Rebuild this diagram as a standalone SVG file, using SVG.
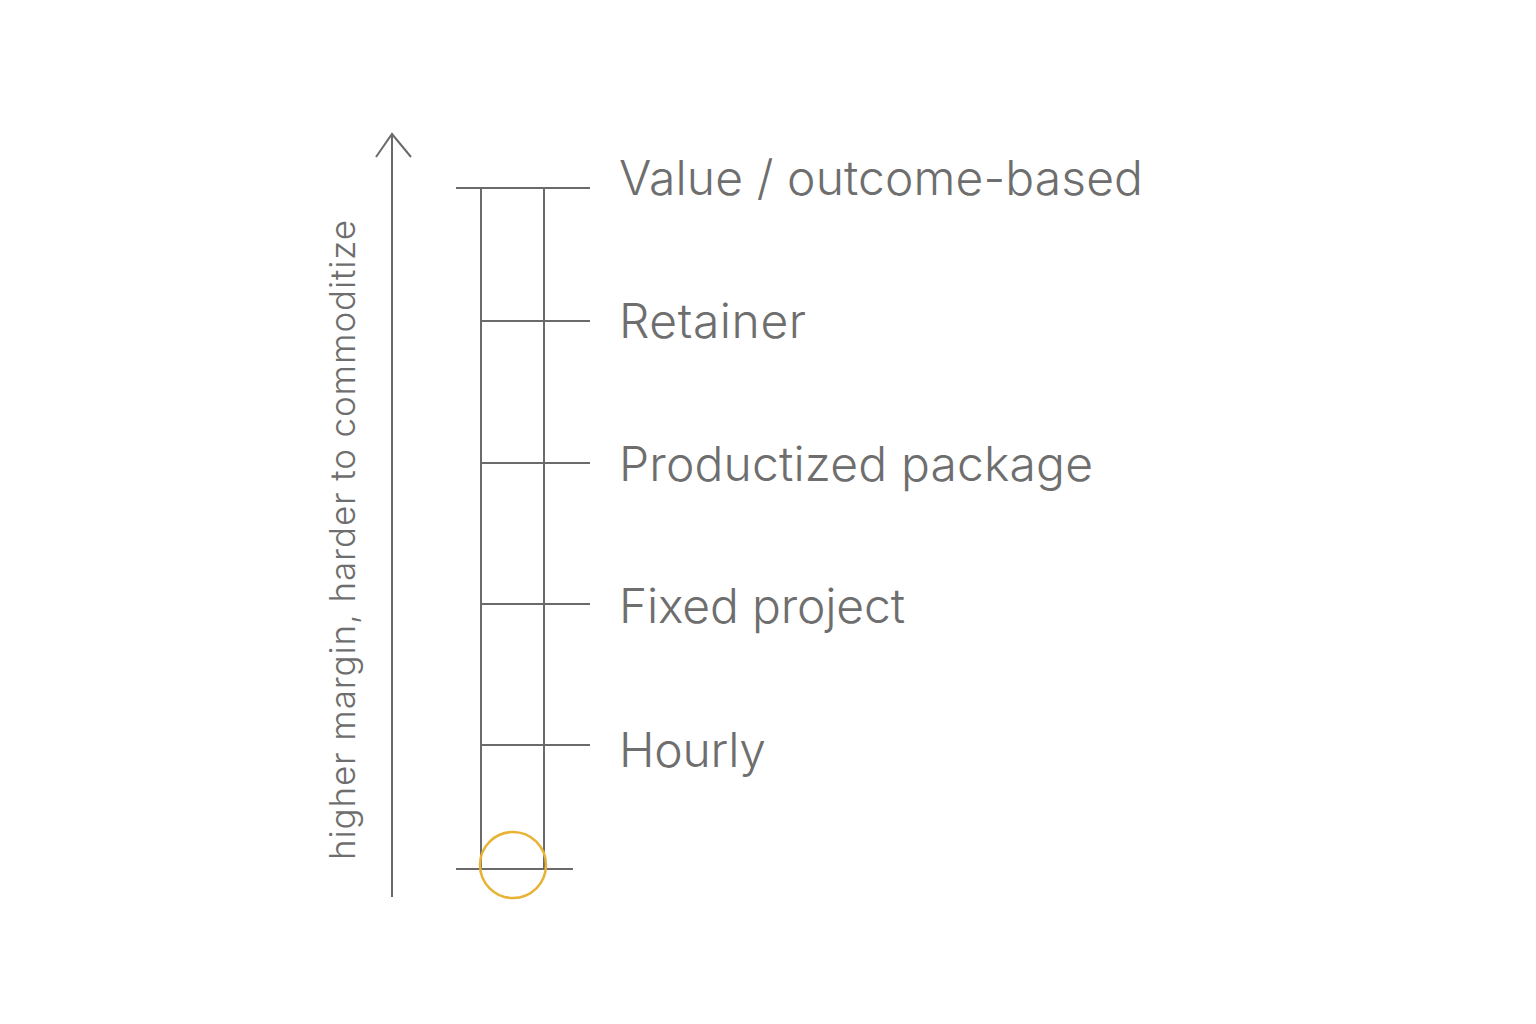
<svg xmlns="http://www.w3.org/2000/svg" width="1536" height="1024" viewBox="0 0 1536 1024">
<style>
.ln{stroke:#6a6a6a;stroke-width:2;fill:none;stroke-linecap:butt}
.lbl{font-family:Inter,"Liberation Sans",sans-serif;font-size:48px;font-weight:300;fill:#6e6e6e}
.ax{font-family:Inter,"Liberation Sans",sans-serif;font-size:35px;font-weight:300;fill:#6e6e6e}
</style>
<rect width="1536" height="1024" fill="#ffffff"/>
<g id="axis">
<line class="ln" x1="392" y1="897" x2="392" y2="134"/>
<polyline class="ln" points="376,157 392,134 411,157"/>
<text class="ax" transform="translate(355,860) rotate(-90)" textLength="640" lengthAdjust="spacing">higher margin, harder to commoditize</text>
</g>
<g id="ladder">
<line class="ln" x1="481" y1="188" x2="481" y2="869"/>
<line class="ln" x1="544" y1="188" x2="544" y2="869"/>
<line class="ln" x1="456" y1="869" x2="573" y2="869"/>
</g>
<g id="connectors">
<line class="ln" x1="456" y1="188" x2="590" y2="188"/>
<line class="ln" x1="481" y1="321" x2="590" y2="321"/>
<line class="ln" x1="481" y1="463" x2="590" y2="463"/>
<line class="ln" x1="481" y1="604" x2="590" y2="604"/>
<line class="ln" x1="481" y1="745" x2="590" y2="745"/>
</g>
<g id="value"><text class="lbl" x="619" y="195" textLength="524" lengthAdjust="spacing">Value / outcome-based</text></g>
<g id="retainer"><text class="lbl" x="619" y="338" textLength="187" lengthAdjust="spacing">Retainer</text></g>
<g id="productized"><text class="lbl" x="619" y="481" textLength="474" lengthAdjust="spacing">Productized package</text></g>
<g id="fixed"><text class="lbl" x="619" y="623" textLength="286" lengthAdjust="spacing">Fixed project</text></g>
<g id="hourly"><text class="lbl" x="619" y="767" textLength="147" lengthAdjust="spacing">Hourly</text></g>
<g id="marker"><circle cx="513" cy="865" r="33" fill="none" stroke="#e8b234" stroke-width="2.5"/></g>
</svg>
